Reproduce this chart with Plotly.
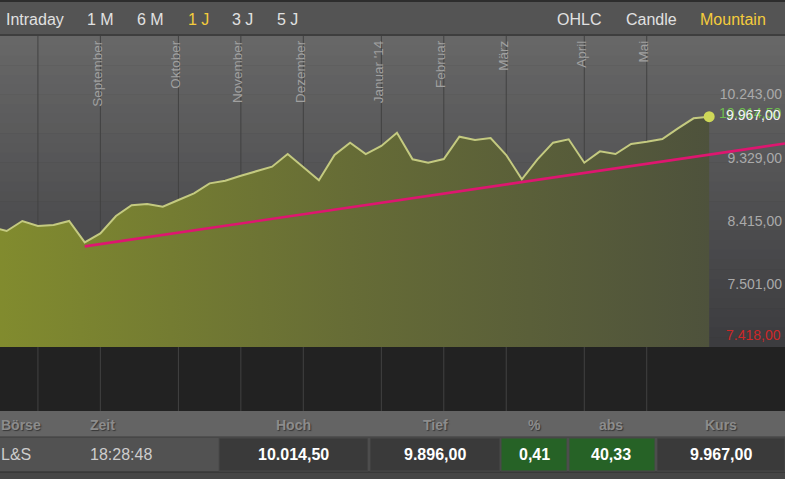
import plotly.graph_objects as go
import pandas as pd

# ---------------- data ----------------
close_values = [8374, 8317, 8461, 8389, 8403, 8461, 8153, 8283, 8533, 8688,
                8706, 8667, 8764, 8861, 9005, 9043, 9115, 9183, 9245, 9428,
                9233, 9049, 9414, 9592, 9428, 9544, 9736, 9352, 9303, 9356,
                9678, 9631, 9659, 9414, 9063, 9352, 9592, 9641, 9303, 9467,
                9428, 9573, 9606, 9645, 9799, 9944, 9967]
first_week = "2013-07-15"
dates = pd.date_range(first_week, periods=len(close_values), freq="7D")

trend_dates = ["2013-08-26", "2014-07-06"]
trend_values = [8095, 9580]

x_range = ["2013-07-19", "2014-07-06"]
y_range = [6642, 11132]

grid_months = ["2013-08", "2013-09", "2013-10", "2013-11", "2013-12",
               "2014-01", "2014-02", "2014-03", "2014-04", "2014-05"]
label_months = ["2013-09", "2013-10", "2013-11", "2013-12", "2014-01",
                "2014-02", "2014-03", "2014-04", "2014-05"]
month_labels = ["September", "Oktober", "November", "Dezember", "Januar '14",
                "Februar", "März", "April", "Mai"]

y_tick_values = [7501, 8415, 9329, 10243]
high_value = 10014.5
low_label = "7.418,00"
high_label = "10.014,50"
last_label = "9.967,00"

period_buttons = ["Intraday", "1 M", "6 M", "1 J", "3 J", "5 J"]
active_period = "1 J"
chart_types = ["OHLC", "Candle", "Mountain"]
active_type = "Mountain"

header_labels = ["Börse", "Zeit", "Hoch", "Tief", "%", "abs", "Kurs"]
row_values = ["L&S", "18:28:48", "10.014,50", "9.896,00", "0,41", "40,33", "9.967,00"]

# --------------- helpers --------------
W, H = 785, 479
FONT = "Liberation Sans"


def pxx(p):
    return p / W


def pyy(p):
    return 1 - p / H


s = pd.Series(dates)
period = s.dt.to_period("M").astype(str)
first_of_month = s.groupby(period).min()
grid_dates = [first_of_month[m] for m in grid_months]
label_dates = [first_of_month[m] for m in label_months]

fig = go.Figure()

fig.add_trace(go.Scatter(
    x=dates, y=close_values, mode="lines",
    line=dict(color="rgb(196,202,128)", width=2),
    fill="tozeroy",
    fillgradient=dict(type="horizontal",
                      colorscale=[[0, "rgb(130,140,46)"],
                                  [0.5, "rgb(102,108,54)"],
                                  [1, "rgb(78,82,60)"]]),
    hoverinfo="skip", showlegend=False))

fig.add_trace(go.Scatter(
    x=trend_dates, y=trend_values, mode="lines",
    line=dict(color="rgb(222,22,112)", width=2.6),
    hoverinfo="skip", showlegend=False))

fig.add_trace(go.Scatter(
    x=[dates[-1]], y=[close_values[-1]], mode="markers",
    marker=dict(size=11, color="rgb(206,216,88)"),
    hoverinfo="skip", showlegend=False))

shapes = []
# chart background gradient (bands)
top, bottom = 36, 347
n = 32
c0, c1 = (103, 103, 103), (60, 60, 63)
for i in range(n):
    t = i / (n - 1)
    col = tuple(round(a + (b - a) * t) for a, b in zip(c0, c1))
    y0 = top + (bottom - top) * i / n
    y1 = top + (bottom - top) * (i + 1) / n
    shapes.append(dict(type="rect", xref="paper", yref="paper",
                       x0=0, x1=1, y0=pyy(y1 + 0.5), y1=pyy(y0),
                       fillcolor="rgb(%d,%d,%d)" % col, line=dict(width=0),
                       layer="below"))
# dark strip under chart
shapes.append(dict(type="rect", xref="paper", yref="paper", x0=0, x1=1,
                   y0=pyy(411), y1=pyy(347), fillcolor="rgb(34,34,34)",
                   line=dict(width=0), layer="below"))
# vertical month grid lines
for d in grid_dates:
    shapes.append(dict(type="line", xref="x", yref="paper", x0=d, x1=d,
                       y0=pyy(411), y1=pyy(36),
                       line=dict(color="rgb(66,66,66)", width=1), layer="below"))
# top bar
shapes.append(dict(type="rect", xref="paper", yref="paper", x0=0, x1=1,
                   y0=pyy(35), y1=1, fillcolor="rgb(84,84,84)",
                   line=dict(width=0), layer="below"))
shapes.append(dict(type="rect", xref="paper", yref="paper", x0=0, x1=1,
                   y0=pyy(2), y1=1, fillcolor="rgb(45,45,45)",
                   line=dict(width=0), layer="below"))
shapes.append(dict(type="line", xref="paper", yref="paper", x0=0, x1=1,
                   y0=pyy(35), y1=pyy(35),
                   line=dict(color="rgb(62,62,62)", width=2), layer="below"))
# table header and row
shapes.append(dict(type="rect", xref="paper", yref="paper", x0=0, x1=1,
                   y0=pyy(437), y1=pyy(411), fillcolor="rgb(100,100,100)",
                   line=dict(width=0), layer="below"))
shapes.append(dict(type="rect", xref="paper", yref="paper", x0=0, x1=1,
                   y0=pyy(472), y1=pyy(437), fillcolor="rgb(82,82,82)",
                   line=dict(width=0), layer="below"))
shapes.append(dict(type="line", xref="paper", yref="paper", x0=0, x1=1,
                   y0=pyy(437), y1=pyy(437),
                   line=dict(color="rgb(60,60,60)", width=1), layer="below"))
shapes.append(dict(type="rect", xref="paper", yref="paper", x0=0, x1=1,
                   y0=0, y1=pyy(472), fillcolor="rgb(70,70,70)",
                   line=dict(width=0), layer="below"))
shapes.append(dict(type="line", xref="paper", yref="paper", x0=0, x1=1,
                   y0=pyy(472), y1=pyy(472),
                   line=dict(color="rgb(45,45,45)", width=1), layer="below"))

cells = [(219, 368, "rgb(58,58,58)"), (370, 500, "rgb(58,58,58)"),
         (501, 567, "rgb(38,98,38)"), (569, 655, "rgb(38,98,38)"),
         (657, 785, "rgb(58,58,58)")]
for x0, x1, col in cells:
    shapes.append(dict(type="rect", xref="paper", yref="paper",
                       x0=pxx(x0), x1=pxx(x1), y0=pyy(471), y1=pyy(438),
                       fillcolor=col, line=dict(color="rgb(72,72,72)", width=1),
                       layer="below"))

annotations = []
PAD = 3  # annotation internal padding compensation
# top bar buttons
left_x = [7, 88, 138, 189, 233, 278]
for lbl, x in zip(period_buttons, left_x):
    annotations.append(dict(text=lbl, xref="paper", yref="paper",
                            x=pxx(x - PAD), y=pyy(19), xanchor="left", yanchor="middle",
                            showarrow=False,
                            font=dict(family=FONT, size=16,
                                      color="rgb(244,204,60)" if lbl == active_period
                                      else "rgb(225,225,225)")))
right_x = [558, 627, 701]
for lbl, x in zip(chart_types, right_x):
    annotations.append(dict(text=lbl, xref="paper", yref="paper",
                            x=pxx(x - PAD), y=pyy(19), xanchor="left", yanchor="middle",
                            showarrow=False,
                            font=dict(family=FONT, size=16,
                                      color="rgb(244,204,60)" if lbl == active_type
                                      else "rgb(225,225,225)")))

# price labels (high label sits underneath the last-price label, as in the original)
annotations.append(dict(text=high_label, xref="paper", yref="y", x=pxx(783),
                        y=high_value, xanchor="right", yanchor="middle",
                        showarrow=False,
                        font=dict(family=FONT, size=14, color="rgb(110,190,80)")))
annotations.append(dict(text=last_label, xref="paper", yref="y", x=pxx(783),
                        y=close_values[-1], yshift=2, xanchor="right", yanchor="middle",
                        showarrow=False,
                        font=dict(family=FONT, size=14, color="rgb(245,245,245)")))
annotations.append(dict(text=low_label, xref="paper", yref="paper", x=pxx(783),
                        y=pyy(335), xanchor="right", yanchor="middle",
                        showarrow=False,
                        font=dict(family=FONT, size=14, color="rgb(205,40,40)")))

# table header / row text
col_x = [2 - PAD, 91 - PAD, 293, 435, 534, 611, 721]
col_anchor = ["left", "left", "center", "center", "center", "center", "center"]
for lbl, x, a in zip(header_labels, col_x, col_anchor):
    annotations.append(dict(text="<b>%s</b>" % lbl, xref="paper", yref="paper",
                            x=pxx(x), y=pyy(425), xanchor=a, yanchor="middle",
                            showarrow=False,
                            font=dict(family=FONT, size=14, color="rgb(140,140,140)",
                                      shadow="1px 1px 1px rgb(55,55,55)")))
for i, (lbl, x, a) in enumerate(zip(row_values, col_x, col_anchor)):
    bold = i >= 2
    annotations.append(dict(text=("<b>%s</b>" % lbl) if bold else lbl,
                            xref="paper", yref="paper",
                            x=pxx(x), y=pyy(454), xanchor=a, yanchor="middle",
                            showarrow=False,
                            font=dict(family=FONT, size=16,
                                      color="white" if bold else "rgb(205,205,205)")))

fig.update_layout(
    width=W, height=H,
    margin=dict(l=0, r=0, t=0, b=0),
    paper_bgcolor="rgb(45,45,45)",
    plot_bgcolor="rgba(0,0,0,0)",
    separators=",.",
    showlegend=False,
    shapes=shapes,
    annotations=annotations,
    xaxis=dict(type="date", range=x_range, side="bottom",
               anchor="free", position=pyy(37), automargin=False,
               tickvals=label_dates, ticktext=month_labels,
               tickangle=-90, ticklabelposition="outside", ticklabelshift=-3,
               tickfont=dict(family=FONT, size=13.5, color="rgb(160,160,160)"),
               showgrid=False, zeroline=False, showline=False, ticks="",
               fixedrange=True),
    yaxis=dict(domain=[pyy(347), pyy(36)], range=y_range, side="right",
               tickvals=y_tick_values, tickformat=",.2f",
               ticklabelposition="inside", ticklabelshift=-3,
               tickfont=dict(family=FONT, size=14, color="rgb(170,170,170)"),
               showgrid=False, zeroline=False, showline=False, ticks="",
               fixedrange=True),
)

fig.write_html("out.html",
               config={"displayModeBar": False},
               post_script="document.body.style.margin='0px';"
                           "document.body.style.overflow='hidden';")
